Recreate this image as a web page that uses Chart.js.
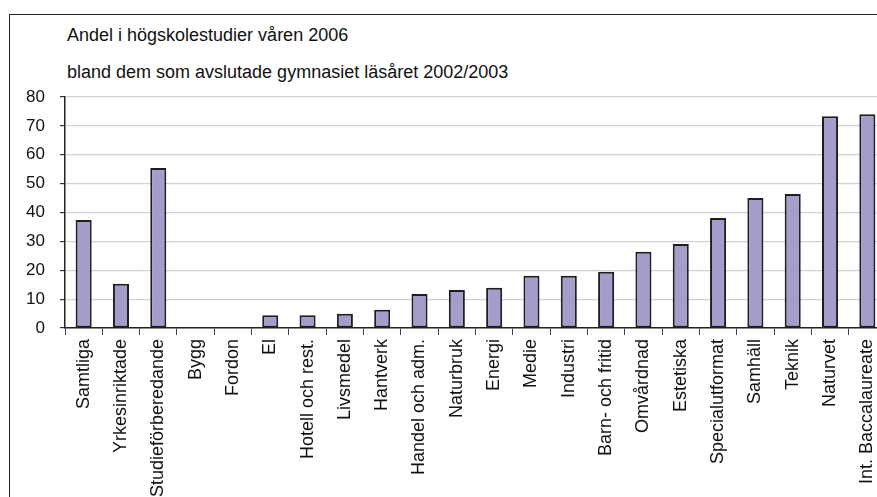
<!DOCTYPE html>
<html>
<head>
<meta charset="utf-8">
<script src="https://cdn.jsdelivr.net/npm/chart.js@4"></script>
<style>
  html, body { margin: 0; padding: 0; background: #fff; width: 877px; height: 497px; overflow: hidden; position: relative; }
  #frame { position: absolute; left: 9px; top: 14px; width: 1000px; height: 1000px; border: 1.5px solid #222; }
  .title { position: absolute; left: 67px; font-family: "Liberation Sans", Arial, sans-serif; font-size: 18px; color: #111; white-space: nowrap; line-height: 18px; }
  #chart { position: absolute; left: 0; top: 0; }
</style>
</head>
<body>
<div id="frame"></div>
<div class="title" style="top:26px">Andel i högskolestudier våren 2006</div>
<div class="title" style="top:63px">bland dem som avslutade gymnasiet läsåret 2002/2003</div>
<canvas id="chart" width="900" height="497" style="width:900px;height:497px"></canvas>
<script>
const categories = [
    "Samtliga", "Yrkesinriktade", "Studieförberedande", "Bygg", "Fordon", "El",
    "Hotell och rest.", "Livsmedel", "Hantverk", "Handel och adm.", "Naturbruk",
    "Energi", "Medie", "Industri", "Barn- och fritid", "Omvårdnad", "Estetiska",
    "Specialutformat", "Samhäll", "Teknik", "Naturvet", "Int. Baccalaureate"
];
const shares = [
    37.4, 15.3, 55.4, 0, 0, 4.4,
    4.4, 4.9, 6.3, 11.8, 13.2,
    13.9, 18.1, 18.1, 19.5, 26.4, 29.1,
    38.1, 45.0, 46.4, 73.3, 74.0
];
const yMin = 0;
const yMax = 80;
const yStep = 10;

const font = { family: "'Liberation Sans', Arial, sans-serif", size: 18 };

const ctx = document.getElementById("chart").getContext("2d");
const chart = new Chart(ctx, {
    type: "bar",
    data: {
        labels: categories,
        datasets: [{
            data: shares,
            backgroundColor: "#a29dca",
            borderColor: "#1e1e1e",
            borderWidth: 2,
            borderSkipped: false,
            categoryPercentage: 1,
            barPercentage: 0.43
        }]
    },
    options: {
        responsive: false,
        animation: false,
        layout: { padding: { top: 97, right: 14, left: 0, bottom: 0 } },
        plugins: {
            legend: { display: false },
            title: { display: false },
            tooltip: { enabled: false }
        },
        scales: {
            x: {
                grid: { drawOnChartArea: false, drawTicks: true, tickLength: 7, tickColor: "#444", offset: true },
                border: { color: "#222", width: 1.5 },
                ticks: { color: "#111", font: font, maxRotation: 90, minRotation: 90, autoSkip: false, padding: 4 },
                afterFit: (scale) => { scale.height = 169; }
            },
            y: {
                min: yMin,
                max: yMax,
                grid: { color: "#d2d2d2", lineWidth: 1.2, tickLength: 5, tickColor: "#333" },
                border: { color: "#222", width: 1.5 },
                ticks: { stepSize: yStep, color: "#111", font: { family: font.family, size: 17 }, padding: 15 },
                afterFit: (scale) => { scale.width = 65; }
            }
        }
    }
});
</script>
</body>
</html>
